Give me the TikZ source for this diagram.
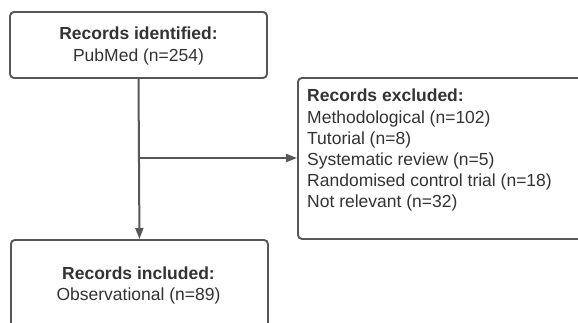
\documentclass[tikz,border=0pt]{standalone}
\usepackage{fontspec}
\setmainfont{Liberation Sans}
\usetikzlibrary{arrows.meta}
\definecolor{edge}{HTML}{575757}
\definecolor{txt}{HTML}{333333}
\begin{document}
\begin{tikzpicture}[x=1pt,y=1pt,
  box/.style={draw=edge, line width=1.9pt, rounded corners=4pt, fill=white, inner sep=0pt},
  lab/.style={text=txt, font=\fontsize{17.5}{21.2}\selectfont, inner sep=0pt},
  conn/.style={draw=edge, line width=2pt},
  tip/.style={-{Triangle[length=11pt,width=8pt]}}]
\useasboundingbox (0,0) rectangle (578,-322);
\clip (0,0) rectangle (578,-322);
\node[box, minimum width=257pt, minimum height=66pt] (top) at (138.5,-45) {};
\node[lab, align=center, anchor=north] (toptext) at (138.5,-27) {\textbf{Records identified:}\\PubMed (n=254)};
\node[box, anchor=north west, minimum width=300pt, minimum height=161pt] (excl) at (297,-77) {};
\node[box, anchor=north west, minimum width=257pt, minimum height=100pt] (incl) at (10,-239) {};
\node[lab, align=center, anchor=north] (incltext) at (138.5,-266.5) {\textbf{Records included:}\\Observational (n=89)};
\node[lab, align=left, anchor=north west] (excltext) at (307,-89)
  {\textbf{Records excluded:}\\Methodological (n=102)\\Tutorial (n=8)\\Systematic review (n=5)\\Randomised control trial (n=18)\\Not relevant (n=32)};
\coordinate (split) at (top.south |- 0,-158);
\draw[conn, tip] (top.south) -- (incl.north);
\draw[conn, tip] (split) -- (split -| excl.west);
\end{tikzpicture}
\end{document}
